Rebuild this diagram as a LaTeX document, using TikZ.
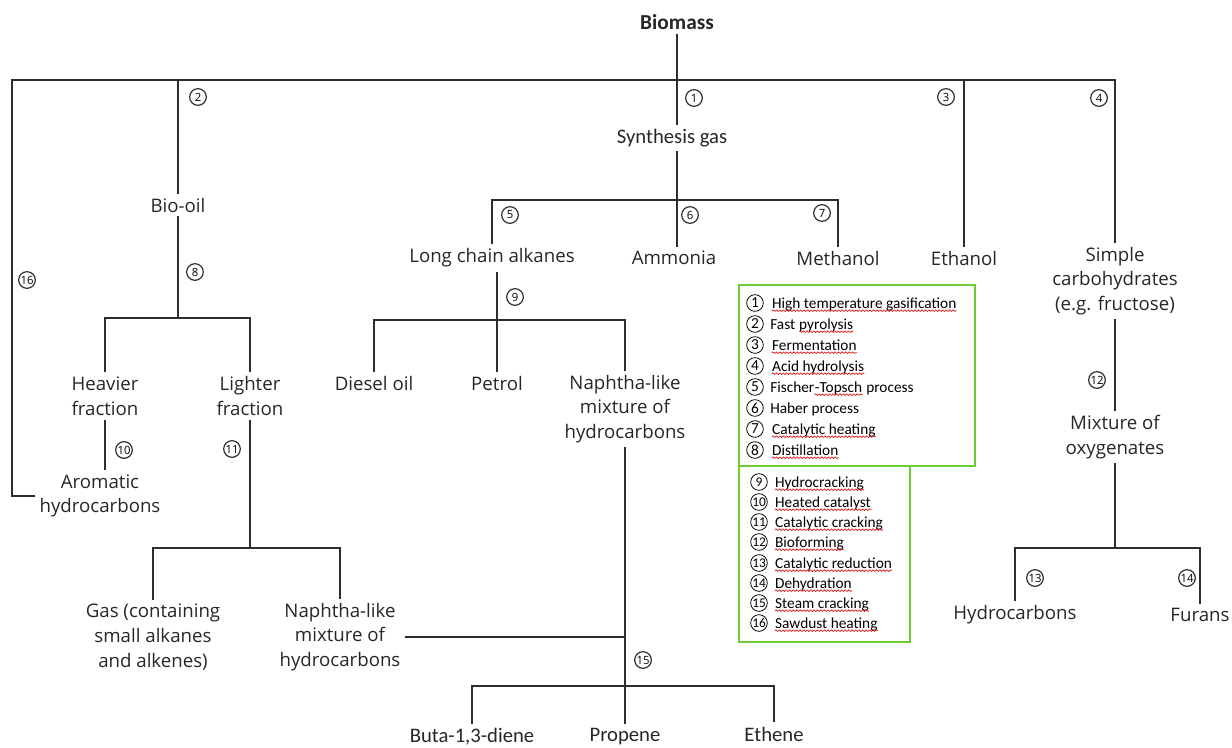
\documentclass[tikz,border=0pt]{standalone}
\usepackage{fontspec}
\setmainfont{Open Sans}
\newfontfamily\calfont{Carlito}
\usetikzlibrary{positioning,decorations.pathmorphing}
\definecolor{legendgreen}{RGB}{110,205,50}
\definecolor{linegray}{RGB}{45,45,45}
\tikzset{
  prod/.style={font=\fontsize{14}{18.5}\selectfont, align=center, inner sep=3pt, text=black!85},
  calprod/.style={prod, font=\calfont\fontsize{15.5}{18}\selectfont},
  numc/.style={circle, draw=linegray, line width=0.9pt, inner sep=0pt, minimum size=12.5pt, font=\fontsize{8.5}{9}\selectfont},
  link/.style={line width=1.3pt, draw=linegray},
  legnum/.style={circle, draw, line width=0.6pt, inner sep=0pt, minimum size=12.5pt, font=\calfont\fontsize{11.5}{12}\selectfont},
  legtxt/.style={anchor=base west, inner sep=0pt, font=\calfont\fontsize{11.5}{12}\selectfont},
  legbox/.style={draw=legendgreen, line width=1.5pt, fill=white},
  wave/.style={draw=red!85!black, line width=0.45pt, decorate, decoration={snake, amplitude=0.6pt, segment length=2.6pt}}
}
\begin{document}
\begin{tikzpicture}[x=0.75pt, y=-0.75pt]
        \useasboundingbox (0,0) rectangle (1232,747);

        \node[calprod, font=\calfont\bfseries\fontsize{16}{18}\selectfont] (biomass) at (677,22) {Biomass};
        \node[calprod] (syngas) at (672,138) {Synthesis gas};
        \node[prod] (bio) at (178,205) {Bio-oil};
        \node[prod] (longchain) at (492,258) {Long chain alkanes};
        \node[prod] (ammonia) at (674,258) {Ammonia};
        \node[prod] (methanol) at (838,258) {Methanol};
        \node[prod] (ethanol) at (964,258) {Ethanol};
        \node[prod] (simple) at (1115,281) {Simple\\carbohydrates\\(e.g. fructose)};
        \node[prod] (heavy) at (105,396) {Heavier\\fraction};
        \node[prod] (light) at (250,396) {Lighter\\fraction};
        \node[prod] (diesel) at (374,383) {Diesel oil};
        \node[prod] (petrol) at (497,383) {Petrol};
        \node[prod] (naph1) at (625,409) {Naphtha-like\\mixture of\\hydrocarbons};
        \node[prod] (arom) at (100,496) {Aromatic\\hydrocarbons};
        \node[prod] (mixox) at (1115,437) {Mixture of\\oxygenates};
        \node[prod] (gas) at (153,637) {Gas (containing\\small alkanes\\and alkenes)};
        \node[prod] (naph2) at (340,637) {Naphtha-like\\mixture of\\hydrocarbons};
        \node[prod] (hydro) at (1015,615) {Hydrocarbons};
        \node[prod] (furans) at (1200,615) {Furans};
        \node[calprod] (buta) at (472,737) {Buta-1,3-diene};
        \node[calprod] (propene) at (625,737) {Propene};
        \node[calprod] (ethene) at (774,734) {Ethene};

        \coordinate (corner) at (12,80);
        \coordinate (sbar) at (677,200);
        \coordinate (lbar) at (497,320);
        \coordinate (bbar) at (178,318);
        \coordinate (gbar) at (250,548);
        \coordinate (pbar) at (625,686);
        \coordinate (mbar) at (1115,548);

        \draw[link] (biomass) -- (biomass |- syngas.north);
        \draw[link] (arom.west) -| (corner) -| (simple);
        \draw[link] (bio) -- (bio |- corner);
        \draw[link] (ethanol) -- (ethanol |- corner);

        \draw[link] (syngas.south -| biomass) -- (ammonia.north -| biomass);
        \draw[link] (longchain) |- (sbar) -| (methanol);

        \draw[link] (longchain.south -| petrol) -- (petrol);
        \draw[link] (diesel) |- (lbar) -| (naph1);

        \draw[link] (bio) -- (bbar);
        \draw[link] (heavy) |- (bbar) -| (light);
        \draw[link] (heavy) -- (heavy |- arom.north);
        \draw[link] (light) -- (gbar);
        \draw[link] (gas) |- (gbar) -| (naph2);
        \draw[link] (naph2.east) -- (naph2.east -| naph1);

        \draw[link] (naph1) -- (propene);
        \draw[link] (buta) |- (pbar) -| (ethene);

        \draw[link] (simple) -- (mixox);
        \draw[link] (mixox) -- (mbar);
        \draw[link] (hydro) |- (mbar) -| (furans);

        \foreach \i/\x/\y in {1/694/98, 2/198/97, 3/946/97, 4/1099/98, 5/510/215, 6/690/215,
                7/822/213, 8/195/272, 9/515/297, 10/124/450, 11/232/449, 12/1097/380,
                13/1035/578, 14/1187/578, 15/643/660, 16/27/280}
            \node[numc] (n\i) at (\x,\y) {\i};

        % legend
        \draw[legbox] (739,285) rectangle (975,466);
        \draw[legbox] (739,466) rectangle (910,642);
        \foreach \i/\y/\pre/\und/\post in {1/303//High temperature gasification/, 2/324/Fast\space\null/pyrolysis/,
                3/345//Fermentation/, 4/366//Acid hydrolysis/, 5/387/Fischer/-Topsch/~process,
                7/429//Catalytic heating/, 8/450//Distillation/,
                9/482//Hydrocracking/, 10/502//Heated catalyst/, 11/522//Catalytic cracking/,
                12/542//Bioforming/, 13/563//Catalytic reduction/, 14/583//Dehydration/,
                15/603//Steam cracking/, 16/623//Sawdust heating/}
        {
            \ifnum\i<9
                \node[legnum] (leg\i) at (755,\y) {\i};
                \node[legtxt] (legp\i) at (770,\y+5) {\strut\pre};
            \else
                \node[legnum, font=\calfont\fontsize{10}{10}\selectfont] (leg\i) at (759,\y) {\i};
                \node[legtxt] (legp\i) at (773,\y+5) {\strut\pre};
            \fi
            \node[legtxt] (legu\i) at (legp\i.base east) {\und};
            \node[legtxt] (legs\i) at (legu\i.base east) {\post};
            \draw[wave] ([yshift=-2pt]legu\i.base west) -- ([yshift=-2pt]legu\i.base east);
        }
        \node[legnum] (leg6) at (755,408) {6};
        \node[legtxt] (legp6) at (770,413) {Haber process};
\end{tikzpicture}
\end{document}
